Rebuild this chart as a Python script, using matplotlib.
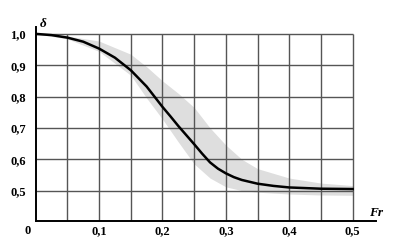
import numpy as np
import matplotlib.pyplot as plt

# curve delta(Fr) and its scatter band
fr = [0.0, 0.025, 0.05, 0.075, 0.1, 0.125, 0.15, 0.175, 0.2, 0.2125, 0.225, 0.2375,
      0.25, 0.2625, 0.275, 0.2875, 0.3, 0.3125, 0.325, 0.35, 0.375, 0.4, 0.45, 0.5]
delta = [1.0, 0.996, 0.988, 0.975, 0.953, 0.924, 0.884, 0.832, 0.767, 0.737, 0.706, 0.677,
         0.648, 0.618, 0.590, 0.570, 0.555, 0.543, 0.534, 0.522, 0.515, 0.510, 0.506, 0.505]

band_fr = [0.0, 0.05, 0.1, 0.15, 0.175, 0.2, 0.225, 0.25, 0.275, 0.3, 0.325,
           0.35, 0.4, 0.45, 0.5]
band_hi = [1.0, 0.993, 0.977, 0.935, 0.895, 0.85, 0.81, 0.765, 0.70, 0.645, 0.60,
           0.57, 0.54, 0.524, 0.516]
band_lo = [1.0, 0.984, 0.944, 0.868, 0.795, 0.728, 0.655, 0.585, 0.54, 0.512, 0.50,
           0.495, 0.489, 0.486, 0.485]

x_ticks = [0.1, 0.2, 0.3, 0.4, 0.5]
x_labels = ['0,1', '0,2', '0,3', '0,4', '0,5']
y_ticks = [0.5, 0.6, 0.7, 0.8, 0.9, 1.0]
y_labels = ['0,5', '0,6', '0,7', '0,8', '0,9', '1,0']

font = dict(family='Liberation Serif', weight='bold', size=9)

fig = plt.figure(figsize=(4.01, 2.52), dpi=100)
ax = fig.add_axes([0.089, 0.123, 0.849, 0.770])
ax.set_xlim(0, 0.537)
ax.set_ylim(0.403, 1.022)

# grid box only up to 0.5 / 1.0
ax.hlines(y_ticks, 0, 0.5, color='#555555', lw=1.0, zorder=1)
ax.vlines(np.arange(0.05, 0.501, 0.05), 0.403, 1.0, color='#555555', lw=1.0, zorder=1)

ax.fill_between(band_fr, band_lo, band_hi, color='#dedede', lw=0, zorder=0.5)
ax.plot(fr, delta, color='black', lw=1.8, zorder=3)

for s in ['top', 'right']:
    ax.spines[s].set_visible(False)
for s in ['left', 'bottom']:
    ax.spines[s].set_linewidth(1.4)

ax.set_xticks(x_ticks)
ax.set_xticklabels(x_labels, fontdict=font)
ax.set_yticks(y_ticks)
ax.set_yticklabels(y_labels, fontdict=font)
ax.tick_params(length=0, pad=3)
ax.tick_params(axis='y', pad=7)

# the origin label sits left of the corner
ax.text(-0.012, 0.403 - 0.013, '0', ha='center', va='top', fontdict=font, clip_on=False)

ax.text(0.0115, 1.030, 'δ', ha='center', va='center', clip_on=False,
        family='Liberation Serif', style='italic', weight='bold', size=9.5)
ax.text(0.537, 0.429, 'Fr', ha='center', va='center', clip_on=False,
        family='Liberation Serif', style='italic', weight='bold', size=9.5)

fig.savefig('out.png', dpi=100)
